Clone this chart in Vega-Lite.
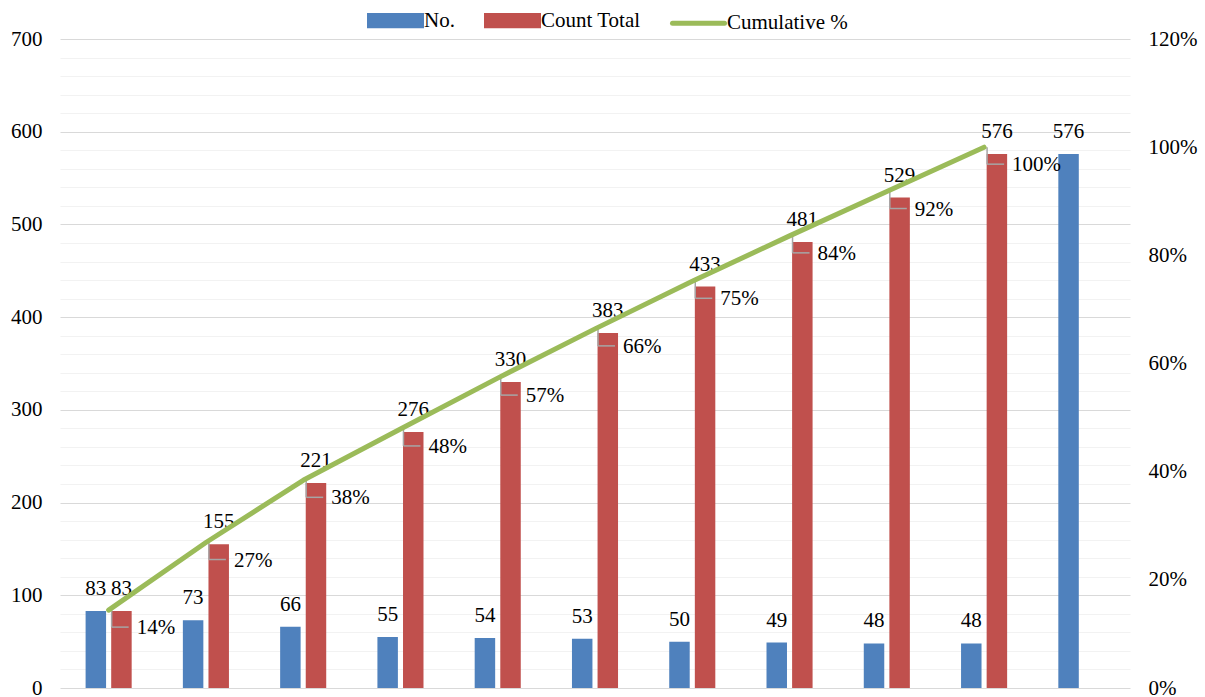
{
  "$schema": "https://vega.github.io/schema/vega-lite/v6.json",
  "width": 1070,
  "height": 649,
  "autosize": {"type": "none"},
  "padding": {"left": 60, "top": 39, "right": 75, "bottom": 9},
  "background": "white",
  "config": {
    "view": {"stroke": null},
    "font": "Liberation Serif",
    "axis": {"labelFont": "Liberation Serif", "labelFontSize": 21, "labelColor": "#000000"},
    "text": {"font": "Liberation Serif", "fontSize": 21, "color": "#000000"}
  },
  "datasets": {
    "bars": [
      {"cat": 1, "series": "No.", "value": 83}, {"cat": 1, "series": "Count Total", "value": 83},
      {"cat": 2, "series": "No.", "value": 73}, {"cat": 2, "series": "Count Total", "value": 155},
      {"cat": 3, "series": "No.", "value": 66}, {"cat": 3, "series": "Count Total", "value": 221},
      {"cat": 4, "series": "No.", "value": 55}, {"cat": 4, "series": "Count Total", "value": 276},
      {"cat": 5, "series": "No.", "value": 54}, {"cat": 5, "series": "Count Total", "value": 330},
      {"cat": 6, "series": "No.", "value": 53}, {"cat": 6, "series": "Count Total", "value": 383},
      {"cat": 7, "series": "No.", "value": 50}, {"cat": 7, "series": "Count Total", "value": 433},
      {"cat": 8, "series": "No.", "value": 49}, {"cat": 8, "series": "Count Total", "value": 481},
      {"cat": 9, "series": "No.", "value": 48}, {"cat": 9, "series": "Count Total", "value": 529},
      {"cat": 10, "series": "No.", "value": 48}, {"cat": 10, "series": "Count Total", "value": 576},
      {"cat": 11, "series": "No.", "value": 576}
    ],
    "cum": [
      {"cat": 1, "cum": 0.144}, {"cat": 2, "cum": 0.269}, {"cat": 3, "cum": 0.384},
      {"cat": 4, "cum": 0.479}, {"cat": 5, "cum": 0.573}, {"cat": 6, "cum": 0.664},
      {"cat": 7, "cum": 0.752}, {"cat": 8, "cum": 0.836}, {"cat": 9, "cum": 0.918},
      {"cat": 10, "cum": 1.0}
    ]
  },
  "layer": [
    {
      "data": {"name": "bars"},
      "layer": [
        {
          "mark": {"type": "bar"},
          "encoding": {
            "x": {"field": "cat", "type": "ordinal", "scale": {"domain": [1,2,3,4,5,6,7,8,9,10,11], "paddingInner": 0, "paddingOuter": 0}, "axis": null},
            "xOffset": {"field": "series", "type": "nominal", "scale": {"domain": ["No.", "Count Total"], "paddingInner": 0.2, "paddingOuter": 1.09}},
            "y": {
              "field": "value", "type": "quantitative", "stack": null,
              "scale": {"domain": [0, 700], "nice": false},
              "axis": {
                "title": null,
                "values": [0,20,40,60,80,100,120,140,160,180,200,220,240,260,280,300,320,340,360,380,400,420,440,460,480,500,520,540,560,580,600,620,640,660,680,700],
                "tickCount": 60,
                "labelExpr": "datum.value % 100 === 0 ? datum.label : ''",
                "labelOverlap": false,
                "grid": true,
                "gridColor": {"condition": {"test": "datum.value % 100 === 0", "value": "#d9d9d9"}, "value": "#f2f2f2"},
                "gridWidth": 1.2,
                "domain": false,
                "ticks": false,
                "labelPadding": 18
              }
            },
            "color": {
              "field": "series", "type": "nominal",
              "scale": {"domain": ["No.", "Count Total", "Cumulative %"], "range": ["#4f81bd", "#c0504d", "#9bbb59"]},
              "legend": {
                "title": null,
                "orient": "none",
                "legendX": 307,
                "legendY": -47,
                "direction": "horizontal",
                "symbolType": "M-1,-0.2H1V0.2H-1Z",
                "symbolSize": 2704,
                "labelFont": "Liberation Serif",
                "labelFontSize": 21,
                "labelColor": "#000000",
                "labelOffset": 0,
                "columnPadding": 21,
                "encode": {
                  "symbols": {
                    "update": {
                      "shape": [{"test": "datum.value === 'Cumulative %'", "value": "M-1,0H1"}, {"value": "M-1,-0.2H1V0.2H-1Z"}],
                      "fill": [{"test": "datum.value === 'No.'", "value": "#4f81bd"}, {"test": "datum.value === 'Count Total'", "value": "#c0504d"}, {"value": "transparent"}],
                      "stroke": [{"test": "datum.value === 'Cumulative %'", "value": "#9bbb59"}, {"value": "transparent"}],
                      "strokeWidth": {"value": 5},
                      "strokeCap": {"value": "round"},
                      "opacity": {"value": 1}
                    }
                  }
                }
              }
            }
          }
        },
        {
          "mark": {"type": "text", "baseline": "alphabetic", "dy": -16, "fontSize": 21, "font": "Liberation Serif", "color": "#000000"},
          "encoding": {
            "x": {"field": "cat", "type": "ordinal"},
            "xOffset": {"field": "series", "type": "nominal"},
            "y": {"field": "value", "type": "quantitative", "stack": null},
            "text": {"field": "value", "type": "quantitative"}
          }
        }
      ]
    },
    {
      "data": {"name": "cum"},
      "layer": [
        {
          "mark": {"type": "rule", "color": "#a6a6a6", "strokeWidth": 1.5, "xOffset": 3, "y2Offset": 17},
          "encoding": {
            "x": {"field": "cat", "type": "ordinal"},
            "y": {"field": "cum", "type": "quantitative", "scale": {"domain": [0, 1.2], "nice": false}, "axis": {
              "orient": "right", "title": null,
              "values": [0, 0.2, 0.4, 0.6, 0.8, 1.0, 1.2],
              "format": ".0%", "grid": false, "domain": false, "ticks": false,
              "labelPadding": 18, "labelOverlap": false
            }},
            "y2": {"field": "cum"}
          }
        },
        {
          "mark": {"type": "rule", "color": "#a6a6a6", "strokeWidth": 1.5, "xOffset": 3, "x2Offset": 20, "yOffset": 17},
          "encoding": {
            "x": {"field": "cat", "type": "ordinal"},
            "x2": {"field": "cat"},
            "y": {"field": "cum", "type": "quantitative"}
          }
        },
        {
          "mark": {"type": "line", "strokeWidth": 5, "strokeCap": "round", "strokeJoin": "round"},
          "encoding": {
            "x": {"field": "cat", "type": "ordinal"},
            "y": {"field": "cum", "type": "quantitative"},
            "color": {"datum": "Cumulative %"}
          }
        },
        {
          "mark": {"type": "text", "align": "left", "baseline": "middle", "dx": 28, "dy": 18, "fontSize": 21, "font": "Liberation Serif", "color": "#000000"},
          "encoding": {
            "x": {"field": "cat", "type": "ordinal"},
            "y": {"field": "cum", "type": "quantitative"},
            "text": {"field": "cum", "type": "quantitative", "format": ".0%"}
          }
        }
      ]
    }
  ],
  "resolve": {"scale": {"y": "independent"}}
}
